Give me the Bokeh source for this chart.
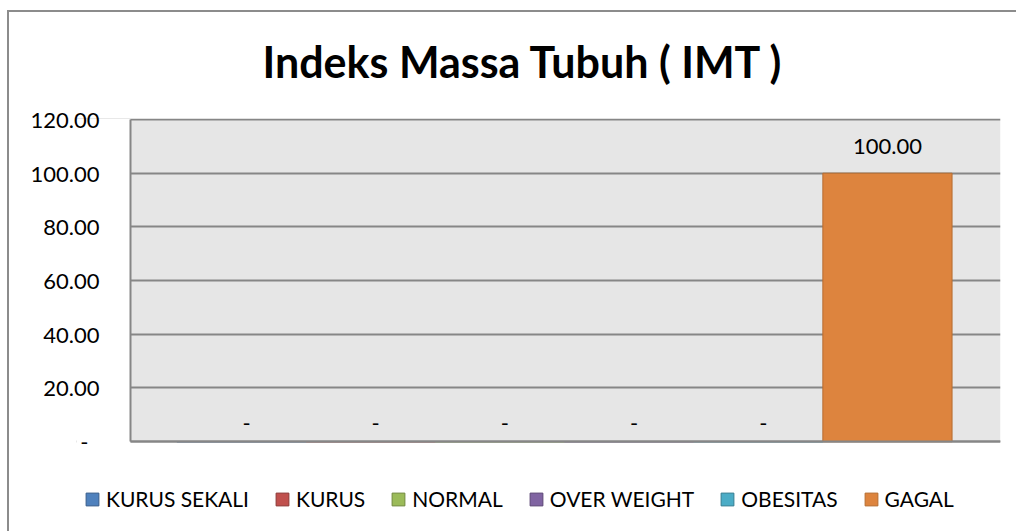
from bokeh.plotting import figure
from bokeh.models import (Range1d, FixedTicker, Legend, LegendItem, ColumnDataSource,
                          BoxAnnotation, LinearAxis)
from bokeh.core.properties import value
from bokeh.embed import file_html
from bokeh.resources import INLINE

title_text = "Indeks Massa Tubuh ( IMT )"
categories = ["KURUS SEKALI", "KURUS", "NORMAL", "OVER WEIGHT", "OBESITAS", "GAGAL"]
values = [0, 0, 0, 0, 0, 100]
fill_colors = ["#4F81BD", "#C0504D", "#9BBB59", "#8064A2", "#4BACC6", "#DD843E"]
line_colors = ["#385D8A", "#8C3836", "#71893F", "#5C4776", "#357D91", "#B66D31"]
y_ticks = [0, 20, 40, 60, 80, 100, 120]
y_tick_labels = ["-\u2002", "20.00", "40.00", "60.00", "80.00", "100.00", "120.00"]

FONT = "Lato"
GRID = "#868686"
xs = list(range(len(categories)))
labels = [f"{v:.2f}" if v else "-" for v in values]

# layout: the frame also holds the legend strip below the plot area
X_START, X_END = -1.277, 5.875      # frame x extent (category units)
AREA_LEFT = -0.859                  # left edge of the grey plot area
Y_START, Y_END = -29.35, 120.37

src = ColumnDataSource(dict(x=xs, top=values, cat=categories, fill=fill_colors,
                            line=line_colors, label=labels))

p = figure(frame_width=924, frame_height=402, output_backend="svg", toolbar_location=None,
           x_range=Range1d(X_START, X_END), y_range=Range1d(Y_START, Y_END),
           min_border_left=76, min_border_right=16, min_border_top=118, min_border_bottom=11)
# outer chart border (left and top edges; the others fall outside the picture)
p.styles = {"background": "linear-gradient(#8C8C8C, #8C8C8C) 7px 10px / 2px 100% no-repeat, "
                          "linear-gradient(#8C8C8C, #8C8C8C) 7px 10px / 100% 2px no-repeat, #FFFFFF"}

p.background_fill_color = None
p.border_fill_color = None
p.outline_line_color = None

# grey plot area (below the grid lines)
p.add_layout(BoxAnnotation(left=AREA_LEFT, bottom=0, top=y_ticks[-1], fill_color="#E6E6E6",
                           fill_alpha=1, line_color=None, level="image"))
# keep the horizontal grid lines inside the plot area
p.add_layout(BoxAnnotation(right=AREA_LEFT, fill_color="white", fill_alpha=1,
                           line_color=None, level="glyph"))

r = p.vbar(x="x", top="top", bottom=0, width=1.0, fill_color="fill", line_color="line",
           line_width=1, source=src)

nz = ColumnDataSource(dict(x=[x for x, v in zip(xs, values) if v],
                           y=[v for v in values if v],
                           t=[l for l, v in zip(labels, values) if v]))
zz = ColumnDataSource(dict(x=[x for x, v in zip(xs, values) if not v],
                           y=[v for v in values if not v],
                           t=[l for l, v in zip(labels, values) if not v]))
p.text(x="x", y="y", text="t", source=nz, text_font=value(FONT), text_font_size="22px",
       text_align="center", text_baseline="alphabetic", y_offset=-27, text_color="black")
p.text(x="x", y="y", text="t", source=zz, text_font=value(FONT), text_font_size="22px",
       text_align="center", text_baseline="alphabetic", x_offset=5, y_offset=-18, text_color="black")

# category axis: only its line, along the baseline of the plot area
p.xaxis.fixed_location = 0
p.xaxis.bounds = (AREA_LEFT, X_END)
p.xaxis.ticker = FixedTicker(ticks=[])
p.xaxis.axis_line_color = GRID
p.xaxis.axis_line_width = 2
p.xaxis.major_tick_line_color = None
p.xaxis.minor_tick_line_color = None
p.xaxis.major_tick_out = 0
p.xaxis.minor_tick_out = 0
p.xaxis.major_label_standoff = 0
p.xaxis.major_label_text_font_size = "0px"
p.xgrid.grid_line_color = None

# value axis labels
p.yaxis.ticker = FixedTicker(ticks=y_ticks)
p.yaxis.major_label_overrides = {t: l for t, l in zip(y_ticks, y_tick_labels)}
p.yaxis.axis_line_color = None
p.yaxis.major_tick_line_color = None
p.yaxis.minor_tick_line_color = None
p.yaxis.major_label_standoff = -29
p.yaxis.major_label_text_font = FONT
p.yaxis.major_label_text_font_size = "22px"
p.yaxis.major_label_text_color = "black"

p.ygrid.ticker = FixedTicker(ticks=y_ticks)
p.ygrid.grid_line_color = GRID
p.ygrid.grid_line_width = 2

# value axis line (left edge of the plot area)
vline = LinearAxis(fixed_location=AREA_LEFT, bounds=(0, y_ticks[-1]), ticker=FixedTicker(ticks=[]),
                   axis_line_color=GRID, axis_line_width=2, major_tick_line_color=None,
                   minor_tick_line_color=None, major_tick_out=0, minor_tick_out=0,
                   major_label_standoff=0, major_label_text_font_size="0px")
p.add_layout(vline, "left")

# title
p.title.text = title_text
p.title.text_font = FONT
p.title.text_font_style = "bold"
p.title.text_font_size = "43px"
p.title.align = "left"
p.title.offset = 186
p.title.standoff = 64
p.title.text_color = "black"

# legend
items = [LegendItem(label=c, renderers=[r], index=i) for i, c in enumerate(categories)]
legend = Legend(items=items, orientation="horizontal", location=(8, 9),
                glyph_width=16, glyph_height=16, label_standoff=6, spacing=25,
                padding=0, margin=0, border_line_color=None, background_fill_alpha=0,
                label_text_font=FONT, label_text_font_size="21px", label_text_color="black")
p.add_layout(legend, "center")

open("out.html", "w").write(file_html(p, INLINE))
